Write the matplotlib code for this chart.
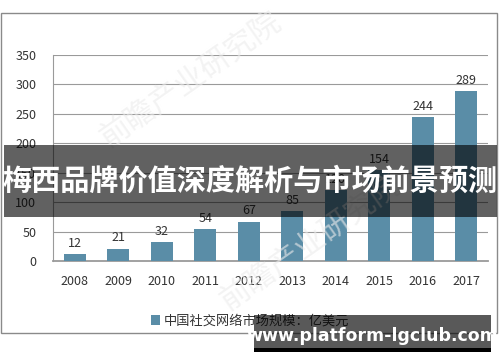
import matplotlib
matplotlib.use("Agg")
import matplotlib.pyplot as plt
from matplotlib.patches import Rectangle

plt.rcParams["font.family"] = ["Noto Sans CJK SC", "DejaVu Sans"]

# ---------- data
years = ["2008", "2009", "2010", "2011", "2012", "2013", "2014", "2015", "2016", "2017"]
market_size = [12, 21, 32, 54, 67, 85, 120, 154, 244, 289]
yticks = [0, 50, 100, 150, 200, 250, 300, 350]
legend_label = "中国社交网络市场规模：亿美元"
banner_title = "梅西品牌价值深度解析与市场前景预测"
site_url = "www.platform-lgclub.com"
watermark = "前瞻产业研究院"

bar_color = "#5a8da7"
W, H = 500, 362

fig = plt.figure(figsize=(5, 3.62), dpi=100)
fig.patch.set_facecolor("white")

# outer frame of the original chart
fig.patches.append(Rectangle((1 / W, 1 - 333 / H), 496 / W, 320 / H,
                             transform=fig.transFigure, fill=False,
                             edgecolor="#8a8a8a", linewidth=1.0, zorder=0))

ax = fig.add_axes([53 / W, 1 - 261 / H, 435 / W, 206 / H])
x = range(len(years))
bars = ax.bar(x, market_size, width=0.5, color=bar_color, zorder=3,
              label=legend_label)
for rect, v in zip(bars, market_size):
    ax.annotate(str(v), (rect.get_x() + rect.get_width() / 2, v),
                xytext=(0, 3), textcoords="offset points",
                ha="center", va="bottom", fontsize=9, color="#333333",
                zorder=4)

ax.set_xlim(-0.5, len(years) - 0.5)
ax.set_ylim(0, 350)
ax.set_yticks(yticks)
ax.set_xticks(list(x))
ax.set_xticklabels(years)
ax.tick_params(axis="both", length=0, labelsize=9, colors="#333333")
ax.tick_params(axis="y", pad=12)
ax.tick_params(axis="x", pad=10)
ax.yaxis.grid(True, color="#9a9a9a", linewidth=0.8, zorder=0)
for s in ["top", "right"]:
    ax.spines[s].set_visible(False)
ax.spines["left"].set_color("#9a9a9a")
ax.spines["bottom"].set_color("#9a9a9a")
ax.spines["bottom"].set_linewidth(1.3)

ax.legend(loc="center", bbox_to_anchor=(250 / W, 1 - 321 / H),
          bbox_transform=fig.transFigure, frameon=False, fontsize=9.5,
          handlelength=0.7, handleheight=0.7, handletextpad=0.3,
          labelcolor="#333333")

# faint watermarks
for wx, wy in [(0.38, 0.78), (0.62, 0.33)]:
    fig.text(wx, wy, watermark, rotation=35, fontsize=22, color="#ebebeb",
             alpha=0.6, ha="center", va="center", zorder=1)

# dark banner across the middle
fig.patches.append(Rectangle((4 / W, 1 - 217 / H), 493 / W, 72 / H,
                             transform=fig.transFigure, facecolor="black",
                             alpha=0.62, edgecolor="none", zorder=5))
fig.text(250 / W, 1 - 181 / H, banner_title, ha="center", va="center",
         fontsize=21, fontweight="bold", color="white", zorder=6)

# site box at the bottom right
fig.patches.append(Rectangle((254 / W, 1 - 352 / H), 237 / W, 37 / H,
                             transform=fig.transFigure, facecolor="black",
                             alpha=0.65, edgecolor="none", zorder=5))
fig.patches.append(Rectangle((254 / W, 1 - 352 / H), 237 / W, 4 / H,
                             transform=fig.transFigure, facecolor="black",
                             edgecolor="none", zorder=5))
fig.text(372 / W, 1 - 336 / H, site_url, ha="center", va="center",
         fontsize=12.5, fontweight="bold", color="white",
         family=["DejaVu Sans"], zorder=6)

fig.savefig("out.png", dpi=100)
